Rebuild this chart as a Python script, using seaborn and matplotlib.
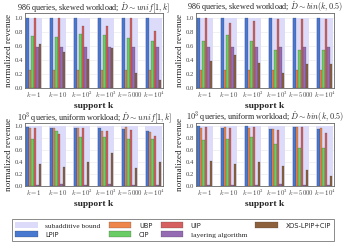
import matplotlib
matplotlib.use("Agg")
import matplotlib.pyplot as plt
import matplotlib.patches as mpatches
import seaborn as sns
import pandas as pd
import numpy as np

support = ["$k=1$", "$k=10$", "$k=10^2$", "$k=10^3$", "$k=5000$", "$k=10^4$"]
series = ["LPIP", "UBP", "CIP", "UIP", "layering algorithm", "XOS-LPIP+CIP"]
bound = [1.0, 1.0, 1.0, 1.0, 1.0, 1.0]

titles = [
    r"986 queries, skewed workload; $\hat{D} \sim unif[1,k]$",
    r"986 queries, skewed workload; $\hat{D} \sim bin(k,0.5)$",
    r"$10^3$ queries, uniform workload; $\hat{D} \sim unif[1,k]$",
    r"$10^3$ queries, uniform workload; $\hat{D} \sim bin(k,0.5)$",
]

# values per panel: rows = series (LPIP, UBP, CIP, UIP, layering, XOS), cols = support
tl_lpip = [1.0, 1.0, 1.0, 1.0, 1.0, 1.0]
tl_ubp = [0.26, 0.26, 0.26, 0.26, 0.26, 0.26]
tl_cip = [0.74, 0.73, 0.77, 0.75, 0.71, 0.67]
tl_uip = [1.0, 1.0, 0.89, 0.89, 1.0, 0.82]
tl_layer = [0.59, 0.58, 0.58, 0.59, 0.58, 0.58]
tl_xos = [0.63, 0.51, 0.41, 0.57, 0.21, 0.11]

tr_lpip = [1.0, 1.0, 1.0, 1.0, 1.0, 1.0]
tr_ubp = [0.25, 0.26, 0.26, 0.26, 0.26, 0.26]
tr_cip = [0.67, 0.76, 0.67, 0.54, 0.54, 0.54]
tr_uip = [1.0, 0.93, 0.96, 0.98, 0.99, 0.99]
tr_layer = [0.59, 0.59, 0.58, 0.59, 0.59, 0.59]
tr_xos = [0.39, 0.47, 0.36, 0.22, 0.34, 0.34]

bl_lpip = [0.98, 0.96, 0.97, 0.97, 0.95, 0.92]
bl_ubp = [0.97, 0.96, 0.97, 0.92, 0.98, 0.90]
bl_cip = [0.79, 0.91, 0.82, 0.82, 0.79, 0.79]
bl_uip = [0.97, 0.86, 0.97, 0.92, 0.94, 0.84]
bl_layer = [0.01, 0.04, 0.01, 0.03, 0.01, 0.01]
bl_xos = [0.37, 0.31, 0.40, 0.55, 0.30, 0.40]

br_lpip = [1.0, 0.97, 1.0, 0.95, 0.98, 0.95]
br_ubp = [0.97, 0.98, 0.97, 0.95, 0.98, 0.96]
br_cip = [0.77, 0.79, 0.82, 0.70, 0.63, 0.63]
br_uip = [0.98, 0.96, 0.99, 0.93, 0.98, 0.88]
br_layer = [0.01, 0.01, 0.01, 0.03, 0.01, 0.01]
br_xos = [0.41, 0.37, 0.40, 0.34, 0.26, 0.16]

panels = [
    [tl_lpip, tl_ubp, tl_cip, tl_uip, tl_layer, tl_xos],
    [tr_lpip, tr_ubp, tr_cip, tr_uip, tr_layer, tr_xos],
    [bl_lpip, bl_ubp, bl_cip, bl_uip, bl_layer, bl_xos],
    [br_lpip, br_ubp, br_cip, br_uip, br_layer, br_xos],
]

sns.set_theme(style="whitegrid")
plt.rcParams["font.family"] = ["Liberation Serif"]
plt.rcParams["mathtext.fontset"] = "cm"

colors = ["#4878D0", "#EE854A", "#6ACC64", "#D65F5F", "#956CB4", "#8C613C"]
lav = "#dcdcfa"

fig = plt.figure(figsize=(3.46, 2.45), dpi=100)
W, H = 346.0, 245.0
rects = [
    (25, 13, 138, 75),
    (196, 13, 138, 75),
    (25, 123, 138, 63),
    (196, 123, 138, 63),
]
ylims = [1.07, 1.07, 1.05, 1.05]

for idx, (rx, ry, rw, rh) in enumerate(rects):
    ax = fig.add_axes([rx / W, 1 - (ry + rh) / H, rw / W, rh / H])
    rows = []
    for s, vals in zip(series, panels[idx]):
        for c, v in zip(support, vals):
            rows.append({"support": c, "series": s, "value": v})
    df = pd.DataFrame(rows)
    sns.barplot(x=support, y=bound, color=lav, width=0.72, saturation=1,
                ax=ax, errorbar=None, linewidth=0)
    sns.barplot(data=df, x="support", y="value", hue="series", order=support,
                hue_order=series, palette=colors, width=0.64, saturation=1,
                gap=0, ax=ax, errorbar=None, edgecolor=(0.2, 0.2, 0.2, 0.5),
                linewidth=0.3, legend=False)
    ax.set_xlim(-0.36, 5.39)
    ax.set_ylim(0, ylims[idx])
    ax.set_yticks([0.0, 0.2, 0.4, 0.6, 0.8, 1.0])
    ax.set_yticklabels(["0.0", "0.2", "0.4", "0.6", "0.8", "1.0"])
    ax.tick_params(axis="both", labelsize=4.8, colors="#444444", pad=1.5,
                   length=0)
    ax.grid(axis="y", color="#e6e6e6", linewidth=0.4)
    ax.grid(axis="x", visible=False)
    ax.set_axisbelow(True)
    for sp in ax.spines.values():
        sp.set_edgecolor("#666666")
        sp.set_linewidth(0.6)
    ax.set_title(titles[idx], fontsize=5.9, pad=2)
    ax.set_xlabel("support k", fontsize=6.8, fontweight="bold", labelpad=1.5)
    ax.set_ylabel("normalized revenue", fontsize=6.6, labelpad=1.2)

handles = [mpatches.Patch(facecolor=lav, edgecolor="none")]
labels = ["subadditive bound"]
for s, c in zip(series, colors):
    handles.append(mpatches.Patch(facecolor=c, edgecolor=(0.2, 0.2, 0.2, 0.5),
                                  linewidth=0.3))
    labels.append(s)

leg = fig.legend(handles, labels, ncol=4, loc="center",
                 bbox_to_anchor=(173 / W, 1 - 230 / H), fontsize=5.4,
                 frameon=True, fancybox=False, handlelength=3.0,
                 handleheight=0.7, columnspacing=1.1, borderpad=0.45,
                 labelspacing=0.35, handletextpad=1.0)
leg.get_frame().set_edgecolor("#555555")
leg.get_frame().set_linewidth(0.6)
for t in leg.get_texts():
    if t.get_text() in ("LPIP", "UBP", "CIP", "UIP", "XOS-LPIP+CIP"):
        t.set_family("DejaVu Sans")
        t.set_fontsize(4.8)

fig.savefig("out.png", dpi=100)
